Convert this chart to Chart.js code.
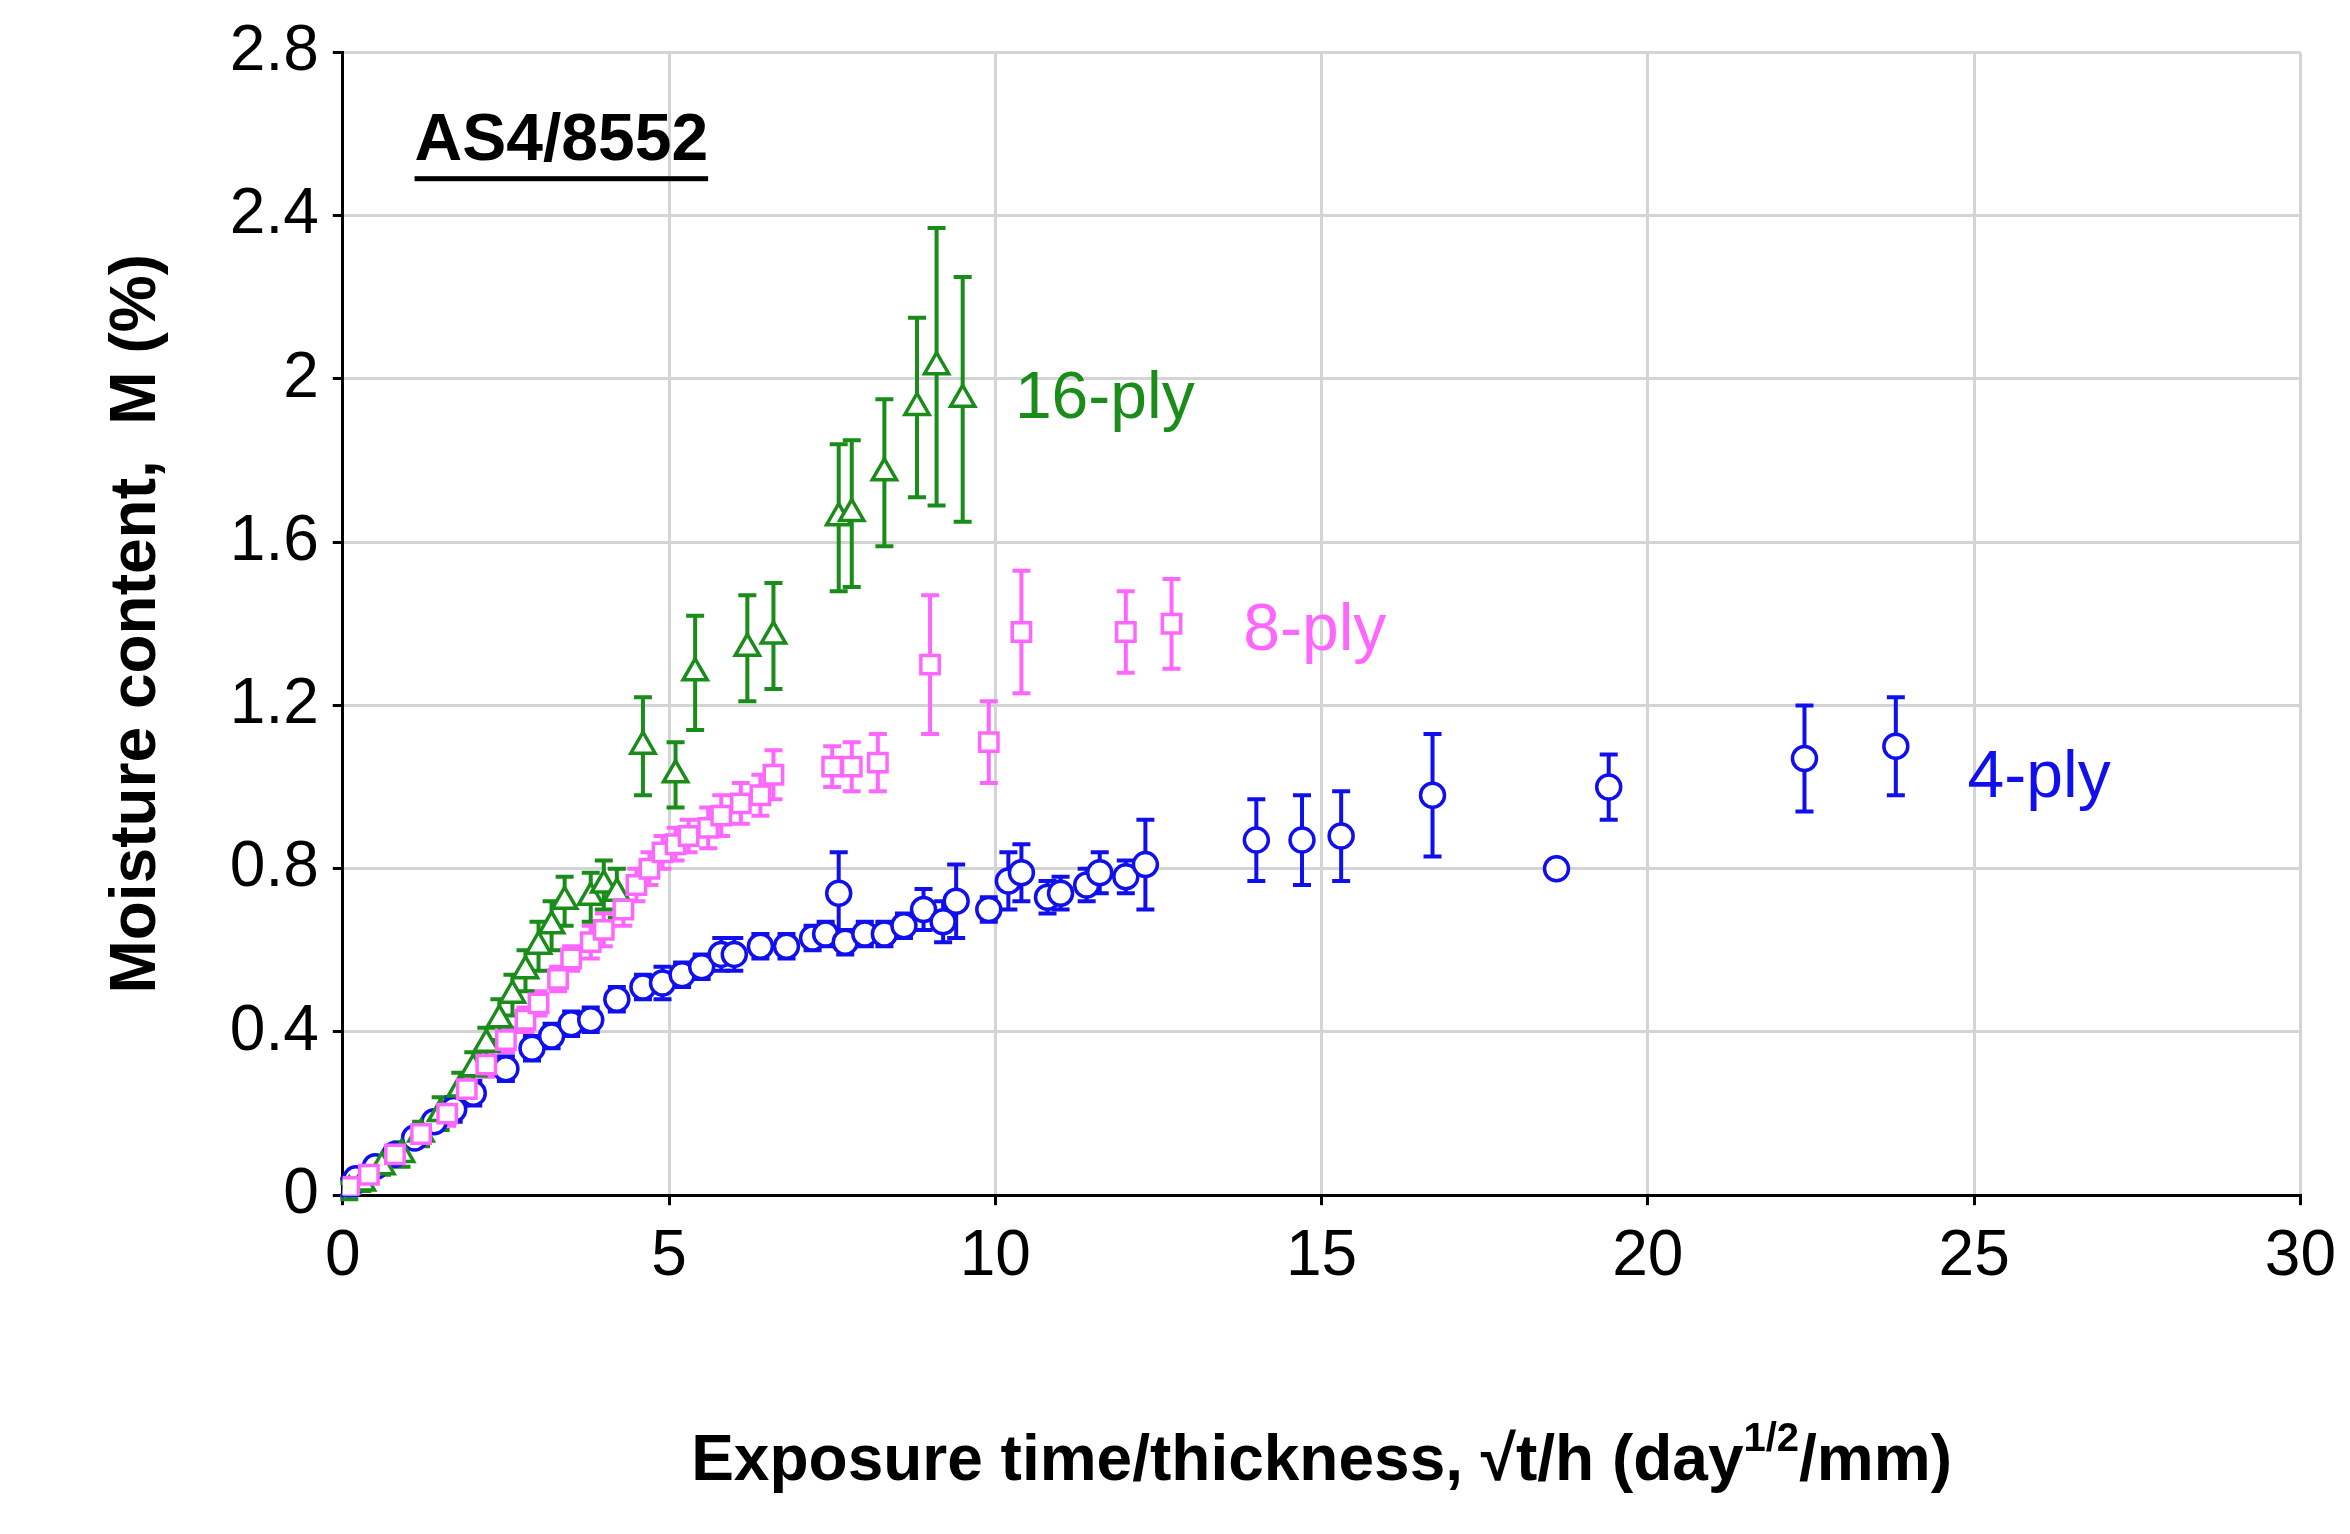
<!DOCTYPE html>
<html>
<head>
<meta charset="UTF-8">
<style>
  html, body { margin: 0; background: #fff; }
  #wrap { width: 2350px; height: 1534px; }
</style>
</head>
<body>
<div id="wrap"><canvas id="c"></canvas></div>
<script src="https://cdn.jsdelivr.net/npm/chart.js"></script>
<script>
// 4-ply
const x4 = [0.1,0.2,0.5,0.8,1.1,1.4,1.7,2,2.5,2.9,3.2,3.5,3.8,4.2,4.6,4.9,5.2,5.5,5.8,6,6.4,6.8,7.2,7.4,7.6,7.7,8,8.3,8.6,8.9,9.2,9.4,9.9,10.2,10.4,10.8,11,11.4,11.6,12,12.3,14,14.7,15.3,16.7,18.6,19.4,22.4,23.8];
const y4 = [0.02,0.04,0.07,0.1,0.14,0.18,0.21,0.25,0.31,0.36,0.39,0.42,0.43,0.48,0.51,0.52,0.54,0.56,0.59,0.59,0.61,0.61,0.63,0.64,0.74,0.62,0.64,0.64,0.66,0.70,0.67,0.72,0.70,0.77,0.79,0.73,0.74,0.76,0.79,0.78,0.81,0.87,0.87,0.88,0.98,0.80,1.0,1.07,1.10];
const e4 = [0.02,0.02,0.02,0.02,0.02,0.02,0.03,0.03,0.03,0.03,0.03,0.03,0.03,0.03,0.03,0.04,0.03,0.03,0.04,0.04,0.03,0.03,0.03,0.03,0.10,0.03,0.03,0.03,0.03,0.05,0.05,0.09,0.03,0.07,0.07,0.04,0.04,0.04,0.05,0.04,0.11,0.10,0.11,0.11,0.15,0.02,0.08,0.13,0.12];
// 8-ply
const x8 = [0.1,0.4,0.8,1.2,1.6,1.9,2.2,2.5,2.8,3,3.3,3.5,3.8,4,4.3,4.5,4.7,4.9,5.1,5.3,5.6,5.8,6.1,6.4,6.6,7.5,7.8,8.2,9,9.9,10.4,12,12.7];
const y8 = [0.02,0.05,0.1,0.15,0.2,0.26,0.32,0.38,0.43,0.47,0.53,0.58,0.62,0.65,0.7,0.76,0.8,0.84,0.86,0.88,0.9,0.93,0.96,0.98,1.03,1.05,1.05,1.06,1.30,1.11,1.38,1.38,1.40];
const e8 = [0.02,0.02,0.02,0.02,0.03,0.03,0.03,0.03,0.03,0.03,0.03,0.03,0.04,0.04,0.04,0.04,0.04,0.04,0.04,0.04,0.05,0.05,0.05,0.05,0.06,0.05,0.06,0.07,0.17,0.10,0.15,0.10,0.11];
// 16-ply
const x16 = [0.1,0.3,0.6,0.9,1.2,1.5,1.8,2,2.2,2.4,2.6,2.8,3,3.2,3.4,3.8,4,4.2,4.6,5.1,5.4,6.2,6.6,7.6,7.8,8.3,8.8,9.1,9.5];
const y16 = [0.01,0.03,0.07,0.1,0.15,0.2,0.26,0.31,0.37,0.43,0.49,0.55,0.61,0.66,0.72,0.73,0.76,0.74,1.10,1.03,1.28,1.34,1.37,1.66,1.67,1.77,1.93,2.03,1.95];
const e16 = [0.02,0.02,0.02,0.03,0.03,0.04,0.04,0.04,0.04,0.05,0.05,0.05,0.06,0.06,0.06,0.06,0.06,0.06,0.12,0.08,0.14,0.13,0.13,0.18,0.18,0.18,0.22,0.34,0.30];

const xTicks = [0,5,10,15,20,25,30];
const yTicks = [0,0.4,0.8,1.2,1.6,2,2.4,2.8];

const FONT = 'Arial, "Liberation Sans"';
const pts = (xs, ys, es) => xs.map((x, i) => ({ x: x, y: ys[i], e: es[i] }));

const errorBars = {
  id: 'errorBars',
  beforeDatasetsDraw(chart) {
    const ctx = chart.ctx, xs = chart.scales.x, ys = chart.scales.y;
    chart.data.datasets.forEach(ds => {
      ctx.save();
      ctx.strokeStyle = ds.borderColor;
      ctx.lineWidth = 4;
      ds.data.forEach(p => {
        const px = xs.getPixelForValue(p.x);
        const top = ys.getPixelForValue(p.y + p.e), bot = ys.getPixelForValue(p.y - p.e);
        ctx.beginPath();
        ctx.moveTo(px, top); ctx.lineTo(px, bot);
        ctx.moveTo(px - 9, top); ctx.lineTo(px + 9, top);
        ctx.moveTo(px - 9, bot); ctx.lineTo(px + 9, bot);
        ctx.stroke();
      });
      ctx.restore();
    });
  },
  afterDraw(chart) {
    const ctx = chart.ctx, xs = chart.scales.x, ys = chart.scales.y, ca = chart.chartArea;
    ctx.save();
    ctx.font = '66px ' + FONT;
    ctx.textBaseline = 'middle';
    ctx.fillStyle = '#1a8c1a'; ctx.fillText('16-ply', xs.getPixelForValue(10.3), ys.getPixelForValue(1.95));
    ctx.fillStyle = '#ff66ff'; ctx.fillText('8-ply', xs.getPixelForValue(13.8), ys.getPixelForValue(1.38));
    ctx.fillStyle = '#1010ee'; ctx.fillText('4-ply', xs.getPixelForValue(24.9), ys.getPixelForValue(1.02));
    ctx.fillStyle = '#000';
    ctx.font = 'bold 66px ' + FONT;
    const tx = xs.getPixelForValue(1.1), ty = ys.getPixelForValue(2.58);
    ctx.fillText('AS4/8552', tx, ty);
    const w = ctx.measureText('AS4/8552').width;
    ctx.fillRect(tx, ty + 34, w, 5);
    // x-axis title with superscript
    const a = 'Exposure time/thickness, √t/h (day', sup = '1/2', b = '/mm)';
    ctx.font = 'bold 64px ' + FONT;
    const wa = ctx.measureText(a).width, wb = ctx.measureText(b).width;
    ctx.font = 'bold 40px ' + FONT;
    const ws = ctx.measureText(sup).width;
    let x0 = (ca.left + ca.right) / 2 - (wa + ws + wb) / 2;
    const yT = 1462;
    ctx.textAlign = 'left';
    ctx.font = 'bold 64px ' + FONT; ctx.fillText(a, x0, yT);
    ctx.font = 'bold 40px ' + FONT; ctx.fillText(sup, x0 + wa, yT - 22);
    ctx.font = 'bold 64px ' + FONT; ctx.fillText(b, x0 + wa + ws, yT);
    ctx.restore();
  }
};

const ds = (label, data, color, style, r) => ({
  label, data, borderColor: color, backgroundColor: '#fff',
  pointStyle: style, pointRadius: r, pointBorderWidth: 3.5, showLine: false
});

new Chart(document.getElementById('c'), {
  type: 'scatter',
  data: {
    datasets: [
      ds('8-ply', pts(x8, y8, e8), '#ff66ff', 'rect', 13),
      ds('16-ply', pts(x16, y16, e16), '#1a8c1a', 'triangle', 14),
      ds('4-ply', pts(x4, y4, e4), '#1010ee', 'circle', 12)
    ]
  },
  options: {
    responsive: true,
    maintainAspectRatio: false,
    animation: false,
    layout: { padding: { top: 52, right: 48, left: 95, bottom: 224 } },
    plugins: { legend: { display: false }, tooltip: { enabled: false } },
    scales: {
      x: {
        type: 'linear', min: 0, max: 30,
        afterBuildTicks: a => { a.ticks = xTicks.map(v => ({ value: v })); },
        grid: { color: '#d4d4d4', lineWidth: 3, drawTicks: true, tickLength: 10, tickColor: '#000' },
        border: { color: '#000', width: 3 },
        ticks: { color: '#000', font: { size: 64, family: FONT }, padding: 14, maxRotation: 0 }
      },
      y: {
        type: 'linear', min: 0, max: 2.8,
        afterBuildTicks: a => { a.ticks = yTicks.map(v => ({ value: v })); },
        grid: { color: '#d4d4d4', lineWidth: 3, tickLength: 10, tickColor: '#000' },
        border: { color: '#000', width: 3 },
        ticks: { color: '#000', font: { size: 64, family: FONT }, padding: 14,
                 callback: v => String(Math.round(v * 10) / 10) },
        title: { display: true, text: 'Moisture content,  M (%)', color: '#000',
                 font: { size: 64, weight: 'bold', family: FONT }, padding: { bottom: 40 } }
      }
    }
  },
  plugins: [errorBars]
});
</script>
</body>
</html>
